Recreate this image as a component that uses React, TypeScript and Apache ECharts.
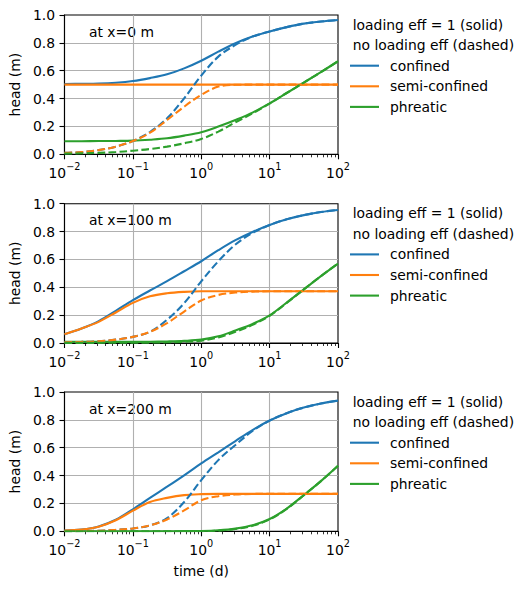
import React, { useEffect, useRef } from "react";
import * as echarts from "echarts";

// time (d), quarter-decade sampling
const T = [0.01, 0.01778, 0.03162, 0.05623, 0.1, 0.1778, 0.3162, 0.5623, 1, 1.778, 3.162, 5.623, 10, 17.78, 31.62, 56.23, 100];

// x = 0 m
const conf0Solid = [0.505, 0.506, 0.508, 0.514, 0.526, 0.547, 0.574, 0.617, 0.672, 0.737, 0.797, 0.845, 0.882, 0.913, 0.938, 0.953, 0.964];
const conf0Dash = [0.01, 0.016, 0.03, 0.055, 0.095, 0.16, 0.258, 0.402, 0.565, 0.701, 0.785, 0.845, 0.882, 0.913, 0.938, 0.953, 0.964];
const semi0Solid = [0.5, 0.5, 0.5, 0.5, 0.5, 0.5, 0.5, 0.5, 0.5, 0.5, 0.5, 0.5, 0.5, 0.5, 0.5, 0.5, 0.5];
const semi0Dash = [0.01, 0.016, 0.03, 0.055, 0.095, 0.155, 0.246, 0.342, 0.426, 0.486, 0.499, 0.5, 0.5, 0.5, 0.5, 0.5, 0.5];
const phr0Solid = [0.094, 0.094, 0.095, 0.096, 0.098, 0.105, 0.115, 0.134, 0.158, 0.199, 0.246, 0.299, 0.366, 0.44, 0.515, 0.59, 0.668];
const phr0Dash = [0.005, 0.007, 0.01, 0.016, 0.026, 0.038, 0.055, 0.079, 0.11, 0.163, 0.23, 0.294, 0.364, 0.44, 0.515, 0.59, 0.668];

// x = 100 m
const conf1Solid = [0.063, 0.104, 0.157, 0.231, 0.308, 0.377, 0.444, 0.515, 0.587, 0.666, 0.738, 0.797, 0.847, 0.888, 0.918, 0.94, 0.955];
const conf1Dash = [0.005, 0.008, 0.013, 0.024, 0.044, 0.08, 0.167, 0.286, 0.443, 0.587, 0.707, 0.79, 0.847, 0.888, 0.918, 0.94, 0.955];
const semi1Solid = [0.063, 0.104, 0.152, 0.219, 0.288, 0.335, 0.357, 0.367, 0.371, 0.371, 0.371, 0.371, 0.371, 0.371, 0.371, 0.371, 0.371];
const semi1Dash = [0.005, 0.008, 0.013, 0.024, 0.044, 0.08, 0.143, 0.226, 0.305, 0.345, 0.362, 0.369, 0.371, 0.371, 0.371, 0.371, 0.371];
const phr1Solid = [0.008, 0.008, 0.008, 0.008, 0.008, 0.009, 0.011, 0.015, 0.024, 0.048, 0.09, 0.137, 0.199, 0.29, 0.385, 0.48, 0.57];
const phr1Dash = [0.001, 0.001, 0.001, 0.002, 0.002, 0.003, 0.005, 0.009, 0.017, 0.04, 0.08, 0.13, 0.195, 0.288, 0.385, 0.48, 0.57];

// x = 200 m
const conf2Solid = [0.005, 0.012, 0.035, 0.083, 0.158, 0.24, 0.32, 0.402, 0.487, 0.567, 0.648, 0.727, 0.795, 0.848, 0.888, 0.917, 0.938];
const conf2Dash = [0.001, 0.002, 0.004, 0.01, 0.02, 0.043, 0.095, 0.21, 0.367, 0.511, 0.62, 0.72, 0.795, 0.848, 0.888, 0.917, 0.938];
const semi2Solid = [0.005, 0.012, 0.033, 0.079, 0.148, 0.21, 0.24, 0.26, 0.267, 0.269, 0.269, 0.269, 0.269, 0.269, 0.269, 0.269, 0.269];
const semi2Dash = [0.001, 0.002, 0.004, 0.01, 0.02, 0.042, 0.085, 0.15, 0.223, 0.252, 0.264, 0.268, 0.269, 0.269, 0.269, 0.269, 0.269];
const phr2Solid = [0, 0, 0, 0, 0, 0, 0, 0.001, 0.002, 0.007, 0.019, 0.043, 0.088, 0.163, 0.26, 0.36, 0.47];
const phr2Dash = [0, 0, 0, 0, 0, 0, 0, 0, 0.001, 0.005, 0.016, 0.04, 0.085, 0.161, 0.259, 0.36, 0.47];

const panelLabels = ["at x=0 m", "at x=100 m", "at x=200 m"];
const legendTitles = ["loading eff = 1 (solid)", "no loading eff (dashed)"];
const seriesNames = ["confined", "semi-confined", "phreatic"];
const colors = ["#1f77b4", "#ff7f0e", "#2ca02c"];
const yTicks = [0, 0.2, 0.4, 0.6, 0.8, 1.0];

const panels = [
  [conf0Solid, semi0Solid, phr0Solid, conf0Dash, semi0Dash, phr0Dash],
  [conf1Solid, semi1Solid, phr1Solid, conf1Dash, semi1Dash, phr1Dash],
  [conf2Solid, semi2Solid, phr2Solid, conf2Dash, semi2Dash, phr2Dash],
];

const FONT = "DejaVu Sans";
const FS = 13.9;
const gridTops = [15, 203.7, 392];
const GL = 61.3;
const GW = 276.7;
const GH = 139.3;

export default function App() {
  const ref = useRef<HTMLDivElement>(null);
  useEffect(() => {
    document.body.style.margin = "0";
    if (!ref.current) return;
    const chart = echarts.init(ref.current, null, { renderer: "svg" });

    const grids = gridTops.map((top) => ({
      left: GL,
      top,
      width: GW,
      height: GH,
      show: true,
      borderColor: "#000",
      borderWidth: 1.1,
      backgroundColor: "transparent",
    }));

    const xAxes = gridTops.map((_, g) => ({
      type: "log",
      logBase: 10,
      min: 0.01,
      max: 100,
      gridIndex: g,
      axisLine: { show: true, onZero: false, lineStyle: { color: "#000", width: 1.1 } },
      axisTick: { show: true, length: 5, lineStyle: { color: "#000", width: 1.1 } },
      minorTick: { show: true, splitNumber: 9, length: 3, lineStyle: { color: "#000", width: 0.8 } },
      minorSplitLine: { show: false },
      axisLabel: {
        margin: 7,
        color: "#000",
        fontFamily: FONT,
        formatter: (v: number) => {
          const e = Math.round(Math.log10(v));
          return `{b|10}{s|${e < 0 ? "\u2212" + -e : e}}`;
        },
        rich: {
          b: { fontSize: FS, fontFamily: FONT, color: "#000", lineHeight: 19, verticalAlign: "bottom" },
          s: { fontSize: 9.7, fontFamily: FONT, color: "#000", lineHeight: 12, verticalAlign: "top" },
        },
      },
      splitLine: {
        show: true,
        showMinLine: false,
        showMaxLine: false,
        lineStyle: { color: "#b0b0b0", width: 1.1 },
      },
      name: g === 2 ? "time (d)" : "",
      nameLocation: "middle",
      nameGap: 33,
      nameTextStyle: { fontSize: FS, fontFamily: FONT, color: "#000" },
    }));

    const yAxes = gridTops.map((_, g) => ({
      type: "value",
      min: yTicks[0],
      max: yTicks[yTicks.length - 1],
      interval: 0.2,
      gridIndex: g,
      axisLine: { show: true, onZero: false, lineStyle: { color: "#000", width: 1.1 } },
      axisTick: { show: true, length: 5, lineStyle: { color: "#000", width: 1.1 } },
      axisLabel: {
        margin: 9.5,
        color: "#000",
        fontSize: FS,
        fontFamily: FONT,
        formatter: (v: number) => v.toFixed(1),
      },
      splitLine: {
        show: true,
        showMinLine: false,
        showMaxLine: false,
        lineStyle: { color: "#b0b0b0", width: 1.1 },
      },
      name: "head (m)",
      nameLocation: "middle",
      nameGap: 37,
      nameRotate: 90,
      nameTextStyle: { fontSize: FS, fontFamily: FONT, color: "#000" },
    }));

    const series: any[] = [];
    panels.forEach((vals, g) => {
      vals.forEach((arr, k) => {
        const dashed = k >= 3;
        series.push({
          type: "line",
          name: seriesNames[k % 3] + (dashed ? " (dashed)" : ""),
          xAxisIndex: g,
          yAxisIndex: g,
          data: T.map((t, i) => [t, arr[i]]),
          symbol: "none",
          smooth: 0.35,
          lineStyle: {
            color: colors[k % 3],
            width: 2.1,
            type: dashed ? [7.7, 3.3] : "solid",
          },
          itemStyle: { color: colors[k % 3] },
          clip: true,
        });
      });
    });

    const graphic: any[] = [];
    gridTops.forEach((top, g) => {
      graphic.push({
        type: "text",
        x: 89,
        y: top + 16.7,
        style: { text: panelLabels[g], fontSize: FS, fontFamily: FONT, fill: "#000", verticalAlign: "middle" },
      });
      const base = top + 9.5;
      legendTitles.forEach((txt, i) => {
        graphic.push({
          type: "text",
          x: 352.7,
          y: base + i * 20.6,
          style: { text: txt, fontSize: FS, fontFamily: FONT, fill: "#000", verticalAlign: "middle" },
        });
      });
      seriesNames.forEach((nm, i) => {
        const y = base + (i + 2) * 20.6;
        graphic.push({
          type: "line",
          shape: { x1: 350, y1: y, x2: 379, y2: y },
          style: { stroke: colors[i], lineWidth: 2.1 },
        });
        graphic.push({
          type: "text",
          x: 390,
          y,
          style: { text: nm, fontSize: FS, fontFamily: FONT, fill: "#000", verticalAlign: "middle" },
        });
      });
    });

    chart.setOption({
      animation: false,
      backgroundColor: "#fff",
      textStyle: { fontFamily: FONT },
      grid: grids,
      xAxis: xAxes,
      yAxis: yAxes,
      series,
      graphic,
    });
    return () => chart.dispose();
  }, []);
  return <div ref={ref} style={{ width: 523, height: 589 }} />;
}
